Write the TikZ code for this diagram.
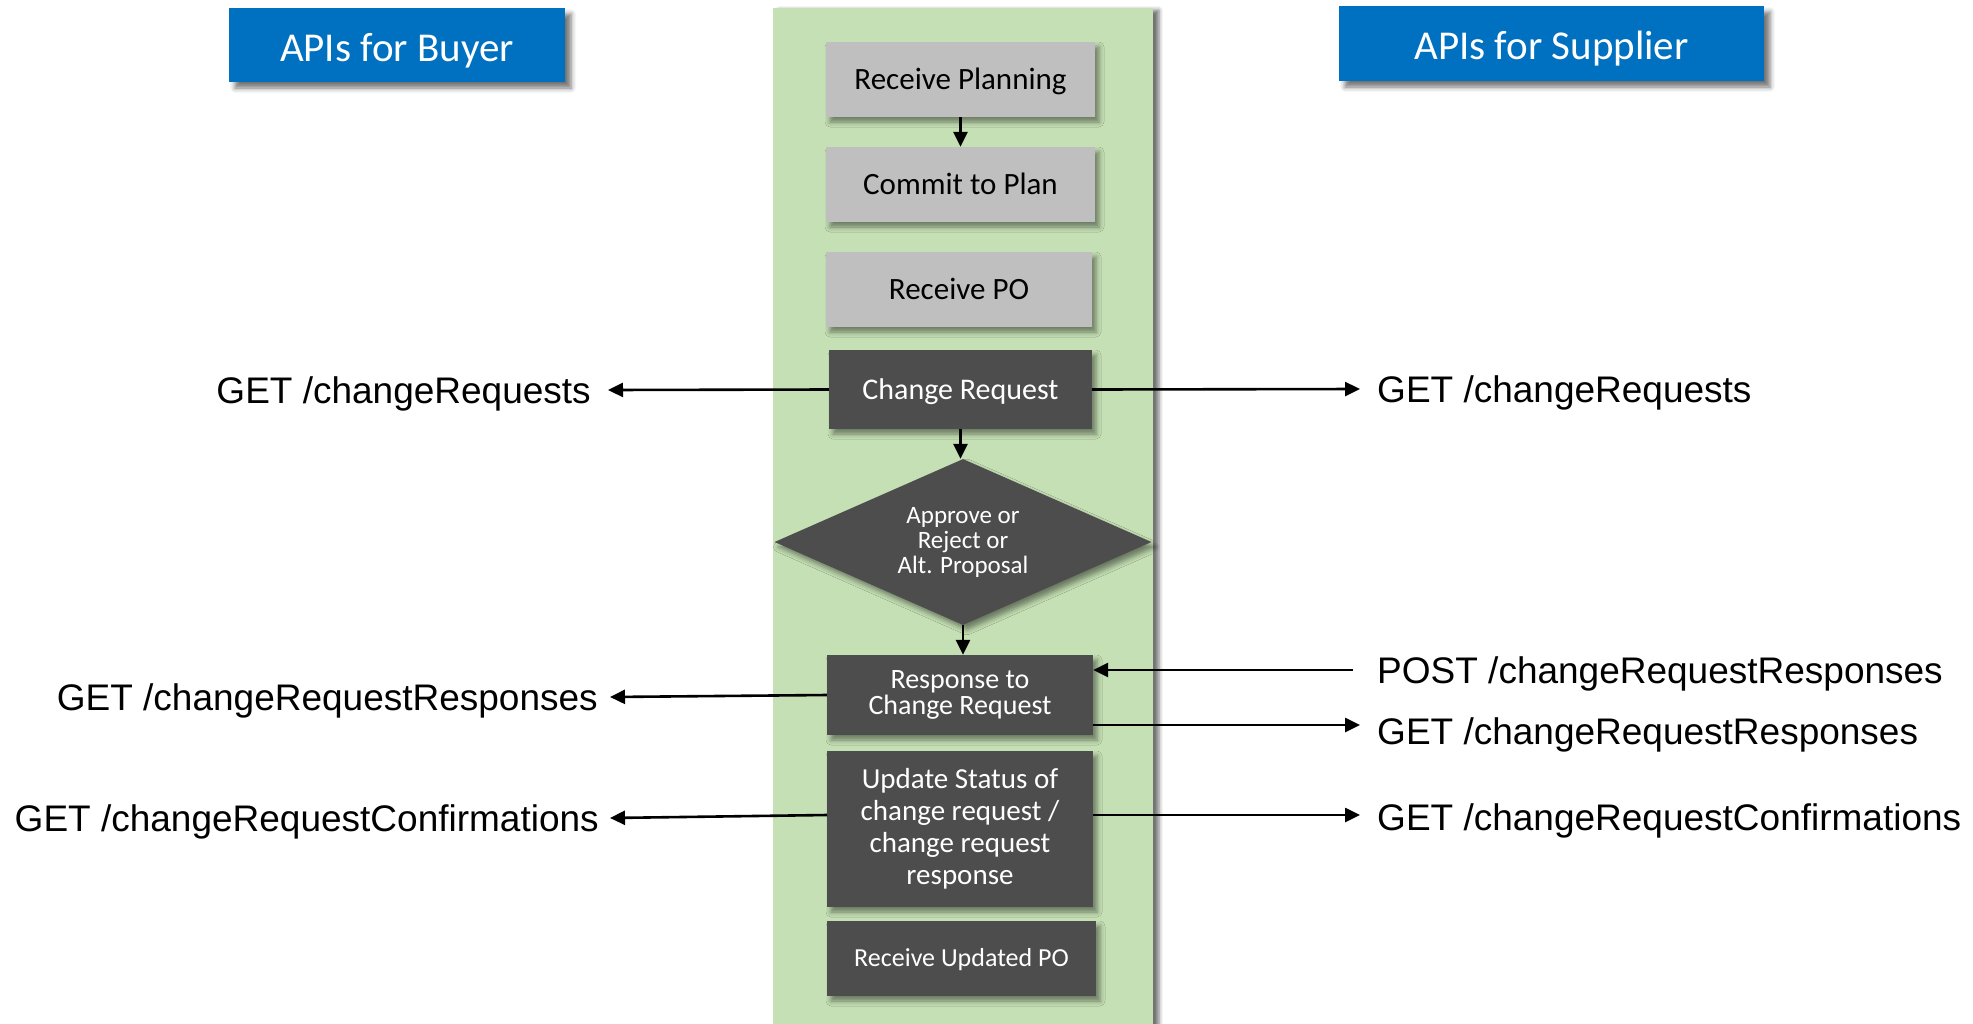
\documentclass[tikz,border=0pt]{standalone}
\usepackage{fontspec}
\setmainfont{Carlito}
\newfontfamily\arialf{Liberation Sans}
\usetikzlibrary{arrows.meta,shapes.geometric,shadows.blur}
\definecolor{hdrblue}{HTML}{0070C0}
\definecolor{pangreen}{HTML}{C5E0B4}
\definecolor{lgray}{HTML}{BFBFBF}
\definecolor{dgray}{HTML}{4D4D4D}
\tikzset{
  softshadow/.style={blur shadow={shadow xshift=4pt, shadow yshift=-5pt, shadow blur radius=5pt, shadow opacity=45}},
  capc/.style={text height=#1, text depth=0pt},
  lightbox/.style={fill=lgray, inner sep=0pt, minimum height=75pt, softshadow,
    font=\fontsize{31}{34}\selectfont, text=black, capc=20pt},
  darkbox/.style={fill=dgray, inner sep=0pt, softshadow, text=white, align=center},
  hdr/.style={fill=hdrblue, inner sep=0pt, text=white, font=\fontsize{41}{44}\selectfont, capc=32pt,
    blur shadow={shadow xshift=6pt, shadow yshift=-6pt, shadow blur radius=5pt, shadow opacity=55}},
  api/.style={font=\arialf\fontsize{37}{40}\selectfont, text height=26.5pt, text depth=0pt, inner ysep=0pt},
  arr/.style={line width=2.6pt, -{Triangle[length=15pt,width=14pt]}},
}
\begin{document}
\begin{tikzpicture}[x=1pt,y=-1pt]
\useasboundingbox (0,0) rectangle (1973,1023);
% green panel
\node[fill=pangreen, inner sep=0pt, minimum width=380pt, minimum height=1040pt,
  blur shadow={shadow xshift=6pt, shadow yshift=-2pt, shadow blur radius=4pt, shadow opacity=55}]
  (pan) at (963,528) {};
% headers
\node[hdr, minimum width=336pt, minimum height=74pt] (hb) at (397,45) {APIs for Buyer};
\node[hdr, minimum width=425pt, minimum height=75pt] (hs) at (1551.5,43.5) {APIs for Supplier};
% process boxes
\node[lightbox, minimum width=269pt] (rp) at (960.5,79.5) {Receive Planning};
\node[lightbox, minimum width=269pt] (ctp) at (960.5,184.5) {Commit to Plan};
\node[lightbox, minimum width=266pt] (rpo) at (959,289.5) {Receive PO};
\node[darkbox, capc=19.3pt, minimum width=263pt, minimum height=79pt, font=\fontsize{30}{33}\selectfont] (cr) at (960.5,389.5) {Change Request};
\node[darkbox, shape=diamond, minimum width=377pt, minimum height=166pt, aspect=2.27,
  font=\fontsize{25}{25}\selectfont] (dec) at (963,542) {Approve or\\Reject or\\Alt. Proposal};
\node[darkbox, minimum width=266pt, minimum height=80pt, font=\fontsize{28}{25.5}\selectfont] (resp) at (960,695) {Response to\\Change Request};
\node[darkbox, minimum width=266pt, minimum height=156pt, font=\fontsize{29}{32}\selectfont] (upd) at (960,829) {Update Status of\\change request /\\change request\\response};
\node[darkbox, capc=16.7pt, minimum width=269pt, minimum height=75pt, font=\fontsize{26}{29}\selectfont] (rupo) at (961.5,958.5) {Receive Updated PO};
% vertical arrows
\draw[arr] (rp.south) -- (ctp.north);
\draw[arr] (cr.south) -- (cr.south |- dec.north);
\draw[arr] (dec.south) -- (dec.south |- resp.north);
% buyer labels
\node[api, anchor=east, inner xsep=17pt] (lcr) at (608,390) {GET /changeRequests};
\node[api, anchor=east, inner xsep=12pt] (lresp) at (610,697) {GET /changeRequestResponses};
\node[api, anchor=east, inner xsep=11pt] (lupd) at (610,818) {GET /changeRequestConfirmations};
% supplier labels
\node[api, anchor=west, inner xsep=17pt] (rcr) at (1360,389) {GET /changeRequests};
\node[api, anchor=west, inner xsep=24pt] (rpost) at (1353,670) {POST /changeRequestResponses};
\node[api, anchor=west, inner xsep=17pt] (rgresp) at (1360,731) {GET /changeRequestResponses};
\node[api, anchor=west, inner xsep=17pt] (rupd) at (1360,817) {GET /changeRequestConfirmations};
% connector points
\coordinate (updL) at (827,815);
\coordinate (updR) at (1093,815);
\coordinate (rgtip) at (1360,725);
% horizontal arrows
\draw[arr] (cr.west) -- (lcr.east);
\draw[arr] (cr.east) -- (rcr.west);
\draw[arr] (resp.west) -- (lresp.east);
\draw[arr] (rpost.west) -- (resp.east |- rpost.west);
\draw[arr] (resp.east |- rgtip) -- (rgtip);
\draw[arr] (updL) -- (lupd.east);
\draw[arr] (updR) -- (updR -| rupd.west);
\end{tikzpicture}
\end{document}
